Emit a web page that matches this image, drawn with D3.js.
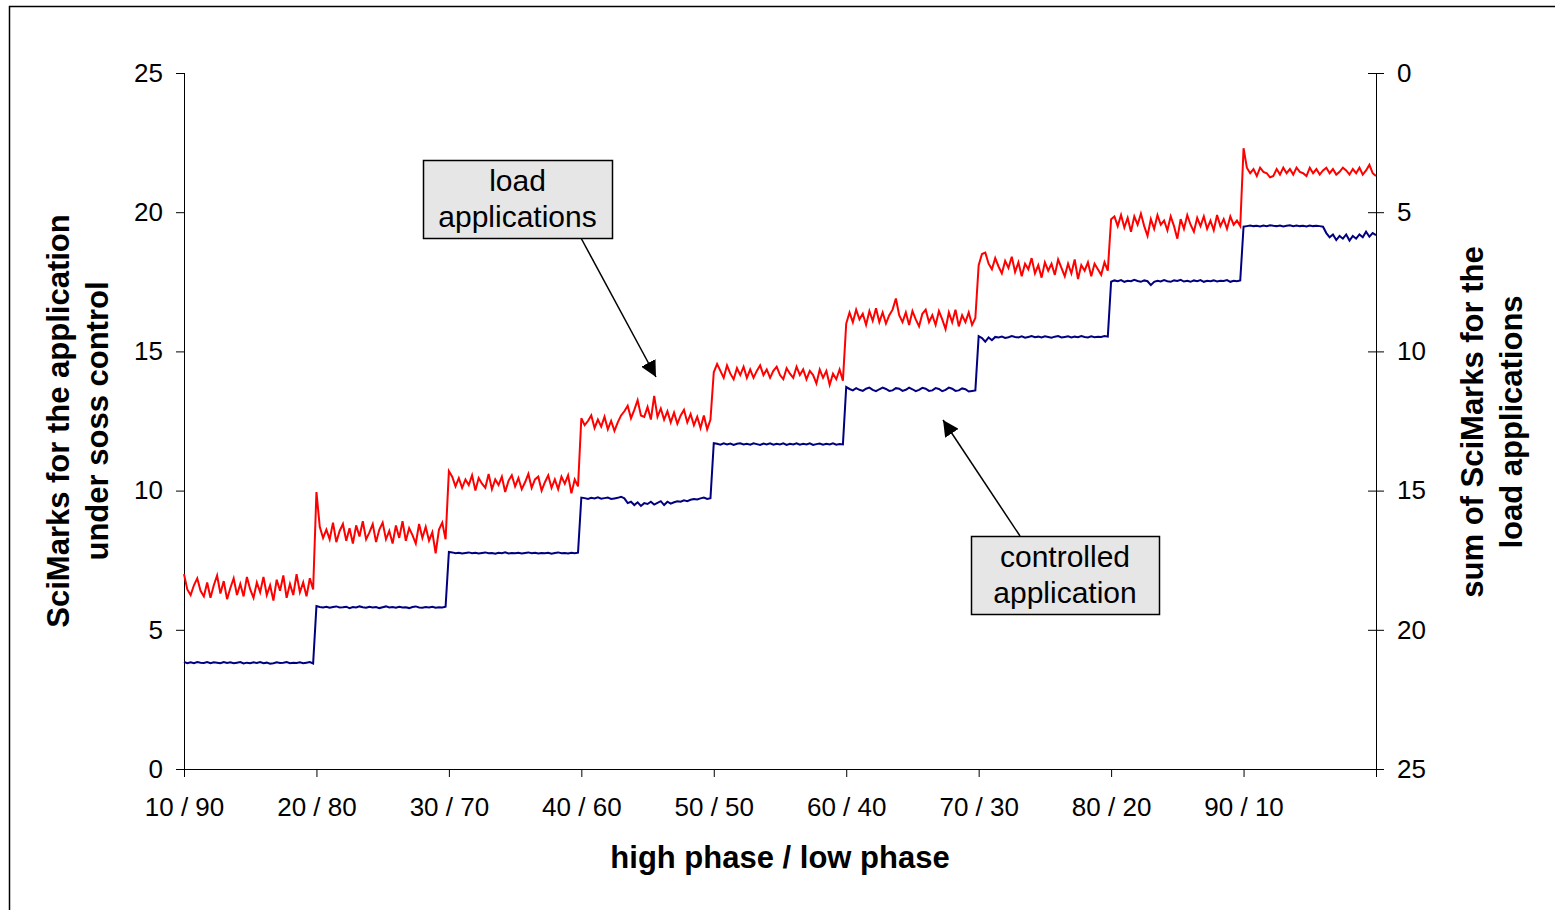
<!DOCTYPE html>
<html lang="en">
<head>
    <meta charset="UTF-8">
    <script src="https://d3js.org/d3.v7.min.js"></script>
    <style>
        body { margin: 0; background: #fff; }
        text { font-family: "Liberation Sans", Arial, sans-serif; fill: #000; }
    </style>
</head>
<body>
<div id="chart"></div>
<script>
    // phase labels on the x axis, one per block of samples
    var categories = ["10 / 90", "20 / 80", "30 / 70", "40 / 60", "50 / 50", "60 / 40", "70 / 30", "80 / 20", "90 / 10"];
    var samplesPerPhase = 40;

    var leftTicks = [0, 5, 10, 15, 20, 25];
    var rightTicks = [0, 5, 10, 15, 20, 25];

    // sum of SciMarks for the load applications (right axis, reversed)
    var loadApps = [
        18.0, 18.55, 18.75, 18.4, 18.15, 18.6, 18.8, 18.3, 18.85, 18.4, 18.05, 18.7, 18.25, 18.9, 18.5, 18.15, 18.75, 18.35, 18.8, 18.1, 18.55, 18.85, 18.3, 18.65, 18.1, 18.75, 18.4, 18.95, 18.2, 18.6, 18.05, 18.85, 18.35, 18.75, 18.0, 18.65, 18.3, 18.8, 18.15, 18.55,
        15.05, 16.3, 16.7, 16.4, 16.75, 16.15, 16.85, 16.45, 16.2, 16.8, 16.35, 16.9, 16.25, 16.65, 16.1, 16.75, 16.5, 16.2, 16.85, 16.4, 16.15, 16.75, 16.45, 16.9, 16.25, 16.7, 16.1, 16.8, 16.35, 16.6, 16.9, 16.2, 16.7, 16.3, 16.8, 16.5, 17.25, 16.4, 16.15, 16.75,
        14.3, 14.5, 14.85, 14.55, 14.9, 14.6, 14.8, 14.45, 15.0, 14.55, 14.75, 14.9, 14.4, 14.95, 14.6, 14.8, 14.5, 15.05, 14.65, 14.45, 14.85, 14.55, 14.95, 14.7, 14.4, 14.9, 14.6, 14.5, 15.0, 14.7, 14.45, 14.9, 14.6, 14.95, 14.5, 14.75, 14.45, 15.1, 14.6, 14.85,
        12.4, 12.65, 12.5, 12.3, 12.75, 12.45, 12.7, 12.35, 12.8, 12.5, 12.85, 12.55, 12.3, 12.15, 11.95, 12.4, 12.1, 11.75, 12.3, 12.35, 12.0, 12.45, 11.6, 12.35, 12.05, 12.45, 12.15, 12.55, 12.2, 12.6, 12.3, 12.1, 12.55, 12.25, 12.65, 12.35, 12.75, 12.3, 12.8, 12.45,
        10.75, 10.45, 10.7, 10.95, 10.5, 10.8, 11.0, 10.6, 10.85, 10.55, 10.95, 10.65, 10.95, 10.7, 10.5, 10.85, 10.65, 10.95, 10.7, 10.55, 10.85, 11.0, 10.6, 10.8, 10.95, 10.55, 10.85, 10.65, 11.0, 10.7, 10.85, 11.15, 10.65, 10.95, 10.7, 11.2, 10.8, 11.0, 10.65, 11.05,
        9.0, 8.6, 8.95, 8.5, 8.85, 8.65, 9.05, 8.55, 8.9, 8.45, 8.95, 8.6, 9.0, 8.7, 8.5, 8.1, 8.7, 8.95, 8.6, 9.05, 8.55, 8.85, 9.1, 8.65, 8.5, 8.95, 8.7, 9.05, 8.55, 8.85, 9.2, 8.6, 8.95, 8.5, 9.1, 8.7, 8.95, 8.6, 9.05, 8.8,
        6.9, 6.5, 6.45, 6.85, 7.05, 6.65, 6.95, 7.2, 6.75, 7.0, 6.6, 7.15, 6.8, 7.3, 6.85, 7.05, 6.65, 7.2, 6.9, 7.35, 6.8, 7.1, 6.85, 7.25, 6.7, 7.0, 7.3, 6.85, 7.2, 6.7, 7.4, 6.9, 7.1, 6.8, 7.3, 6.85, 7.05, 7.25, 6.8, 7.1,
        5.25, 5.15, 5.5, 5.1, 5.55, 5.2, 5.7, 5.15, 5.45, 5.05, 5.5, 5.85, 5.25, 5.6, 5.1, 5.45, 5.3, 5.65, 5.15, 5.5, 5.95, 5.25, 5.6, 5.1, 5.45, 5.7, 5.2, 5.5, 5.15, 5.6, 5.3, 5.65, 5.1, 5.5, 5.25, 5.6, 5.15, 5.45, 5.3, 5.5,
        2.7, 3.4, 3.6, 3.45, 3.7, 3.4, 3.55, 3.6, 3.75, 3.7, 3.45, 3.65, 3.4, 3.6, 3.45, 3.65, 3.4, 3.55, 3.6, 3.7, 3.4, 3.6, 3.45, 3.65, 3.5, 3.4, 3.6, 3.45, 3.65, 3.55, 3.4, 3.5, 3.65, 3.45, 3.6, 3.4, 3.65, 3.5, 3.3, 3.6,
        3.7
    ];

    // SciMarks for the application under soss control (left axis)
    var controlled = [
        3.85, 3.8, 3.83, 3.8, 3.84, 3.82, 3.81, 3.84, 3.8, 3.83, 3.82, 3.8, 3.84, 3.81, 3.83, 3.8, 3.82, 3.84, 3.79, 3.82, 3.8, 3.83, 3.81, 3.84, 3.8, 3.82, 3.78, 3.8, 3.83, 3.81, 3.82, 3.84, 3.8, 3.82, 3.81, 3.83, 3.8, 3.82, 3.84, 3.79,
        5.85, 5.82, 5.8, 5.83, 5.79, 5.82, 5.84, 5.8, 5.81, 5.83, 5.78, 5.82, 5.8, 5.84, 5.81, 5.79, 5.83, 5.8, 5.82, 5.78, 5.81, 5.84, 5.8, 5.82, 5.79, 5.83, 5.8, 5.81, 5.78, 5.82, 5.84, 5.8, 5.79, 5.82, 5.8, 5.83, 5.79, 5.81, 5.8, 5.83,
        7.8, 7.78, 7.75, 7.77, 7.74, 7.76, 7.78, 7.75, 7.77, 7.74, 7.76, 7.78, 7.75, 7.76, 7.73, 7.77, 7.75, 7.78, 7.74, 7.76, 7.75, 7.77, 7.74, 7.76, 7.78, 7.75, 7.77, 7.74, 7.76, 7.75, 7.77, 7.73, 7.76, 7.78, 7.75, 7.76, 7.74, 7.77, 7.75, 7.77,
        9.75, 9.73, 9.7, 9.74, 9.72, 9.76, 9.71, 9.73, 9.75, 9.7, 9.72, 9.74, 9.78, 9.72, 9.55, 9.6, 9.48, 9.58, 9.45, 9.55, 9.52, 9.6, 9.5, 9.56, 9.62, 9.48, 9.6, 9.53, 9.58, 9.62, 9.6, 9.65, 9.62, 9.67, 9.7, 9.68, 9.72, 9.75, 9.7, 9.73,
        11.7, 11.68, 11.65, 11.7, 11.66, 11.69, 11.64, 11.68, 11.7, 11.66, 11.68, 11.65, 11.7, 11.67, 11.64, 11.69, 11.66, 11.7, 11.65, 11.68, 11.66, 11.7, 11.64, 11.68, 11.66, 11.7, 11.65, 11.68, 11.66, 11.7, 11.64, 11.67, 11.69, 11.65, 11.68, 11.66, 11.7, 11.65, 11.67, 11.66,
        13.72, 13.65, 13.6, 13.68, 13.62, 13.58, 13.66, 13.7, 13.62, 13.57, 13.64, 13.7, 13.65, 13.58, 13.6, 13.68, 13.66, 13.58, 13.62, 13.7, 13.64, 13.57, 13.62, 13.69, 13.66, 13.58, 13.6, 13.68, 13.65, 13.57, 13.62, 13.7, 13.66, 13.58, 13.6, 13.67, 13.64, 13.56, 13.58, 13.6,
        15.55, 15.48, 15.35, 15.5, 15.4, 15.52, 15.5, 15.53, 15.48, 15.51, 15.55, 15.52, 15.5, 15.54, 15.49, 15.52, 15.55, 15.51, 15.53, 15.5, 15.54, 15.52, 15.49, 15.53, 15.55, 15.5, 15.52, 15.54, 15.5, 15.53, 15.51, 15.55, 15.52, 15.5, 15.54, 15.51, 15.53, 15.52, 15.55, 15.53,
        17.5, 17.55, 17.52, 17.56, 17.5, 17.54, 17.52, 17.57, 17.53, 17.5, 17.55, 17.52, 17.38, 17.5, 17.54, 17.51, 17.56, 17.52, 17.5, 17.55, 17.53, 17.57, 17.51, 17.54, 17.5, 17.55, 17.52, 17.56, 17.5, 17.54, 17.52, 17.55, 17.51, 17.54, 17.53, 17.56, 17.5, 17.54, 17.52, 17.55,
        19.48, 19.5, 19.52, 19.5, 19.51, 19.49, 19.52, 19.5, 19.53, 19.51, 19.5, 19.52, 19.49, 19.51, 19.53, 19.5, 19.52, 19.5, 19.51, 19.49, 19.52, 19.5, 19.51, 19.5, 19.48, 19.25, 19.1, 19.2, 19.0, 19.15, 19.05, 19.2, 18.98, 19.15, 19.05, 19.2, 19.1, 19.3, 19.12, 19.25,
        19.18
    ];

    var width = 1555,
        height = 910;
    var margin = { left: 184, right: 179, top: 73, bottom: 141 };

    var svg = d3.select("#chart")
        .append("svg")
        .attr("width", width)
        .attr("height", height);

    // outer frame (right/bottom edges fall outside the picture)
    svg.append("rect")
        .attr("x", 9.5).attr("y", 6.5)
        .attr("width", 1600).attr("height", 1000)
        .attr("fill", "none").attr("stroke", "#000").attr("stroke-width", 1.5);

    var n = categories.length * samplesPerPhase;
    var x = d3.scaleLinear().domain([0, n]).range([margin.left, width - margin.right]);
    var yLeft = d3.scaleLinear().domain([0, 25]).range([height - margin.bottom, margin.top]);
    var yRight = d3.scaleLinear().domain([0, 25]).range([margin.top, height - margin.bottom]);

    var fontTick = "26px";

    // x axis
    var xTicks = d3.range(0, n + 1, samplesPerPhase);
    svg.append("g")
        .attr("transform", "translate(0," + yLeft(0) + ")")
        .call(d3.axisBottom(x).tickValues(xTicks).tickSize(8).tickPadding(21)
            .tickFormat(function (d) { return categories[d / samplesPerPhase] || ""; }))
        .call(function (g) {
            g.select(".domain").attr("d", "M" + x(0) + ",0.5H" + x(n));
            g.selectAll("text").style("font-size", fontTick);
        });

    // left axis
    svg.append("g")
        .attr("transform", "translate(" + x(0) + ",0)")
        .call(d3.axisLeft(yLeft).tickValues(leftTicks).tickSize(8).tickPadding(13))
        .call(function (g) {
            g.select(".domain").attr("d", "M0.5," + yLeft(25) + "V" + yLeft(0));
            g.selectAll("text").style("font-size", fontTick);
        });

    // right axis (reversed), ticks cross the line
    svg.append("g")
        .attr("transform", "translate(" + x(n) + ",0)")
        .call(d3.axisRight(yRight).tickValues(rightTicks).tickSize(8).tickPadding(13))
        .call(function (g) {
            g.select(".domain").attr("d", "M0.5," + yRight(0) + "V" + yRight(25));
            g.selectAll("text").style("font-size", fontTick);
            g.selectAll(".tick line").attr("x1", -8);
        });

    // series
    var lineLeft = d3.line()
        .x(function (d, i) { return x(i); })
        .y(function (d) { return yLeft(d); });
    var lineRight = d3.line()
        .x(function (d, i) { return x(i); })
        .y(function (d) { return yRight(d); });

    svg.append("path")
        .datum(controlled)
        .attr("fill", "none")
        .attr("stroke", "#000080")
        .attr("stroke-width", 2)
        .attr("d", lineLeft);

    svg.append("path")
        .datum(loadApps)
        .attr("fill", "none")
        .attr("stroke", "#ff0000")
        .attr("stroke-width", 2)
        .attr("d", lineRight);

    // axis titles
    svg.append("text")
        .attr("x", 780).attr("y", 868)
        .attr("text-anchor", "middle")
        .style("font-size", "31px").style("font-weight", "bold")
        .text("high phase / low phase");

    var leftTitle = svg.append("text")
        .attr("transform", "translate(69,421) rotate(-90)")
        .attr("text-anchor", "middle")
        .style("font-size", "31px").style("font-weight", "bold");
    leftTitle.append("tspan").attr("x", 0).attr("dy", 0).text("SciMarks for the application");
    leftTitle.append("tspan").attr("x", 0).attr("dy", 39).text("under soss control");

    var rightTitle = svg.append("text")
        .attr("transform", "translate(1483,422) rotate(-90)")
        .attr("text-anchor", "middle")
        .style("font-size", "31px").style("font-weight", "bold");
    rightTitle.append("tspan").attr("x", 0).attr("dy", 0).text("sum of SciMarks for the");
    rightTitle.append("tspan").attr("x", 0).attr("dy", 39).text("load applications");

    // callouts
    svg.append("defs").append("marker")
        .attr("id", "head")
        .attr("markerUnits", "userSpaceOnUse")
        .attr("viewBox", "0 0 10 10")
        .attr("refX", 10).attr("refY", 5)
        .attr("markerWidth", 16).attr("markerHeight", 16)
        .attr("orient", "auto")
        .append("path").attr("d", "M0,0L10,5L0,10Z").attr("fill", "#000");

    var callouts = [
        { lines: ["load", "applications"], box: [423, 160, 189, 78], from: [581, 238], to: [656, 377] },
        { lines: ["controlled", "application"], box: [971, 536, 188, 78], from: [1020, 536], to: [943, 420] }
    ];

    callouts.forEach(function (c) {
        svg.append("line")
            .attr("x1", c.from[0]).attr("y1", c.from[1])
            .attr("x2", c.to[0]).attr("y2", c.to[1])
            .attr("stroke", "#000").attr("stroke-width", 1.5)
            .attr("marker-end", "url(#head)");
        svg.append("rect")
            .attr("x", c.box[0] + 0.5).attr("y", c.box[1] + 0.5)
            .attr("width", c.box[2]).attr("height", c.box[3])
            .attr("fill", "#e6e6e6").attr("stroke", "#000").attr("stroke-width", 1.5);
        var t = svg.append("text")
            .attr("text-anchor", "middle")
            .style("font-size", "30px");
        c.lines.forEach(function (s, i) {
            t.append("tspan")
                .attr("x", c.box[0] + c.box[2] / 2)
                .attr("y", c.box[1] + 31 + i * 36)
                .text(s);
        });
    });
</script>
</body>
</html>
